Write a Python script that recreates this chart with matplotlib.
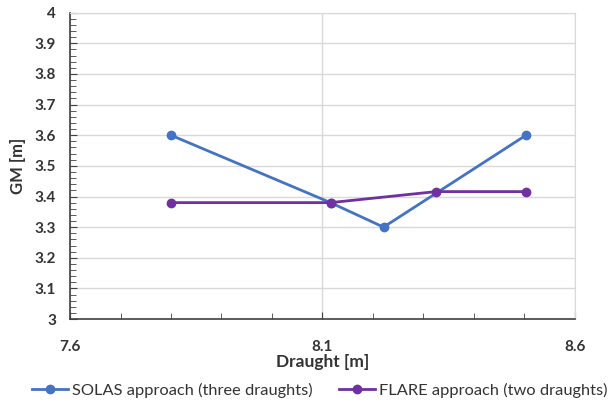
import matplotlib
matplotlib.use("Agg")
import matplotlib.pyplot as plt
from matplotlib.ticker import MultipleLocator

solas_x = [7.8, 8.116, 8.221, 8.503]
solas_y = [3.60, 3.38, 3.30, 3.60]
flare_x = [7.8, 8.116, 8.325, 8.503]
flare_y = [3.38, 3.38, 3.416, 3.416]
x_ticks = [7.6, 8.1, 8.6]
y_ticks = [3.0, 3.1, 3.2, 3.3, 3.4, 3.5, 3.6, 3.7, 3.8, 3.9, 4.0]
y_tick_labels = ["3", "3.1", "3.2", "3.3", "3.4", "3.5", "3.6", "3.7", "3.8", "3.9", "4"]

plt.rcParams['font.family'] = ['Lato', 'DejaVu Sans']

fig = plt.figure(figsize=(6.09, 4.03), dpi=100)
ax = fig.add_axes([0.115, 0.2084, 0.829, 0.76])

ax.plot(solas_x, solas_y, color='#4472C4', lw=2, marker='o', ms=6,
        label='SOLAS approach (three draughts)', zorder=3)
ax.plot(flare_x, flare_y, color='#7030A0', lw=2, marker='o', ms=6,
        label='FLARE approach (two draughts)', zorder=3)

ax.set_xlim(7.6, 8.6)
ax.set_ylim(3.0, 4.0)
ax.set_xticks(x_ticks)
ax.set_xticklabels([f"{v:g}" for v in x_ticks])
ax.set_yticks(y_ticks)
ax.set_yticklabels(y_tick_labels)
ax.xaxis.set_minor_locator(MultipleLocator(0.1))
ax.yaxis.set_minor_locator(MultipleLocator(0.02))

ax.grid(True, which='major', color='#d9d9d9', lw=1, zorder=0)
ax.set_axisbelow(True)

for s in ['top', 'right']:
    ax.spines[s].set_color('#d9d9d9')
for s in ['left', 'bottom']:
    ax.spines[s].set_color('#404040')
    ax.spines[s].set_linewidth(1.2)

ax.tick_params(axis='x', which='major', direction='in', length=5, color='#404040', pad=15,
               labelsize=11, labelcolor='#333333')
ax.tick_params(axis='x', which='minor', direction='in', length=4, color='#404040')
ax.tick_params(axis='y', which='major', direction='in', length=5, color='#404040', pad=10,
               labelsize=11, labelcolor='#333333')
ax.tick_params(axis='y', which='minor', direction='in', length=4, color='#404040')
for lab in ax.get_xticklabels() + ax.get_yticklabels():
    lab.set_fontweight('bold')

ax.set_xlabel('Draught [m]', fontsize=12.5, fontweight='bold', color='#333333', labelpad=0)
ax.set_ylabel('GM [m]', fontsize=12, fontweight='bold', color='#333333', labelpad=6)

fig.legend(loc='center', bbox_to_anchor=(0.525, 0.032), ncol=2, frameon=False,
           fontsize=11.8, handlelength=2.2, columnspacing=1.6, handletextpad=0.25,
           labelcolor='#333333')

fig.savefig('out.png', dpi=100)
